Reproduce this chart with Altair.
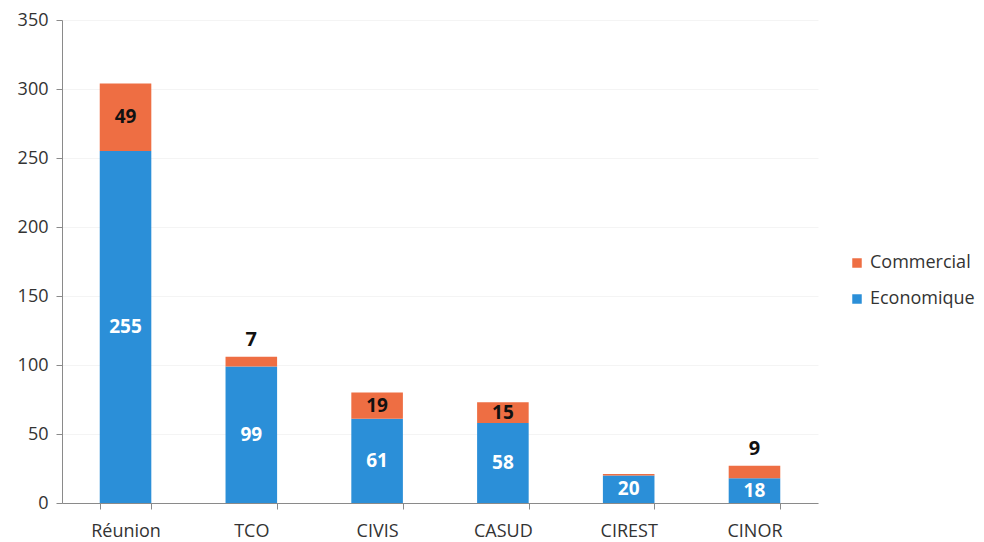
import altair as alt
import pandas as pd

categories = ["Réunion", "TCO", "CIVIS", "CASUD", "CIREST", "CINOR"]
economique = [255, 99, 61, 58, 20, 18]
commercial = [49, 7, 19, 15, 1, 9]
commercial_labels = ["49", "7", "19", "15", "", "9"]
series = ["Commercial", "Economique"]
colors = ["#EE6E43", "#2B8FD8"]
y_ticks = [0, 50, 100, 150, 200, 250, 300, 350]

rows = []
for c, e, m, lab in zip(categories, economique, commercial, commercial_labels):
    rows.append({"cat": c, "serie": "Economique", "value": e, "ord": 0,
                 "mid": e / 2, "top": e, "label": str(e)})
    rows.append({"cat": c, "serie": "Commercial", "value": m, "ord": 1,
                 "mid": e + m / 2, "top": e + m, "label": lab})
df = pd.DataFrame(rows)

FONT = "Open Sans"

x_enc = alt.X("cat:N", sort=categories, title=None,
              scale=alt.Scale(paddingInner=0.59, paddingOuter=0.3),
              axis=alt.Axis(labelAngle=0, tickBand="extent", labelFontSize=18,
                            labelColor="#333333", labelFont=FONT, tickSize=6,
                            labelPadding=13, domainColor="#8a8a8a", tickColor="#8a8a8a",
                            grid=False))

bars = alt.Chart(df).mark_bar().encode(
    x=x_enc,
    y=alt.Y("value:Q", stack="zero", title=None,
            scale=alt.Scale(domain=[0, 350], nice=False),
            axis=alt.Axis(values=y_ticks, labelFontSize=18, labelColor="#333333",
                          labelFont=FONT, tickSize=6, labelPadding=8,
                          domainColor="#8a8a8a", tickColor="#8a8a8a",
                          grid=True, gridColor="#f4f4f4")),
    color=alt.Color("serie:N", scale=alt.Scale(domain=series, range=colors),
                    legend=alt.Legend(title=None, orient="none", legendX=786, legendY=234,
                                      symbolType="square", symbolSize=90,
                                      labelFontSize=18, labelFont=FONT,
                                      labelColor="#333333", rowPadding=18)),
    order=alt.Order("ord:Q"),
)

econ_text = alt.Chart(df).transform_filter(alt.datum.serie == "Economique").mark_text(
    font=FONT, fontSize=19, fontWeight="bold", color="white", baseline="middle"
).encode(x=alt.X("cat:N", sort=categories), y=alt.Y("mid:Q"), text="label:N")

comm_in = alt.Chart(df).transform_filter(
    (alt.datum.serie == "Commercial") & (alt.datum.value >= 10)
).mark_text(font=FONT, fontSize=19, fontWeight="bold", color="#111111", baseline="middle"
).encode(x=alt.X("cat:N", sort=categories), y=alt.Y("mid:Q"), text="label:N")

comm_out = alt.Chart(df).transform_filter(
    (alt.datum.serie == "Commercial") & (alt.datum.value < 10)
).mark_text(font=FONT, fontSize=20, fontWeight="bold", color="#111111", baseline="middle",
            dy=-17
).encode(x=alt.X("cat:N", sort=categories), y=alt.Y("top:Q"), text="label:N")

chart = alt.layer(bars, econ_text, comm_in, comm_out).properties(
    width=756, height=483,
    background="white",
    autosize=alt.AutoSizeParams(type="none"),
    padding={"left": 54, "top": 12, "right": 158, "bottom": 40},
).configure_view(stroke=None)

chart.save("out.html", embed_options={"renderer": "svg", "actions": False})
